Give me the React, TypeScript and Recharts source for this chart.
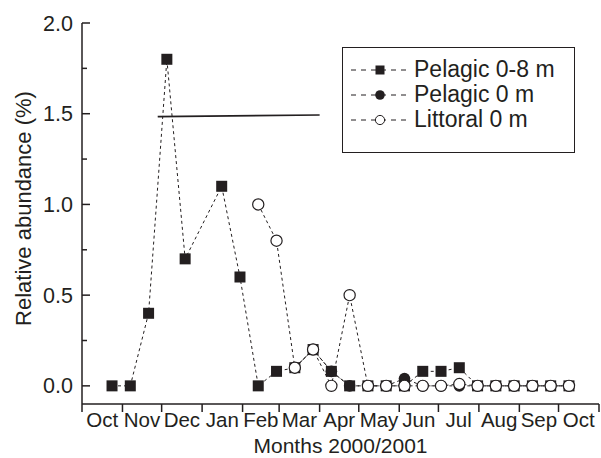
import React from 'react';
import { LineChart, Line, XAxis, YAxis, Legend, Label } from 'recharts';

// ---- data ----
const monthStarts = [0, 31, 61, 92, 123, 151, 182, 212, 243, 273, 304, 335, 365, 396]; // days since 1 Oct 2000
const monthLabels = ['Oct', 'Nov', 'Dec', 'Jan', 'Feb', 'Mar', 'Apr', 'May', 'Jun', 'Jul', 'Aug', 'Sep', 'Oct'];
const yTicks = [0, 0.25, 0.5, 0.75, 1.0, 1.25, 1.5, 1.75, 2.0];

const sampleDays = [23, 37, 51, 65, 79, 93, 107, 121, 135, 149, 163, 177, 191, 205, 219, 233, 247, 261, 275, 289, 303, 317, 331, 345, 359, 373];
const pelagic08 = [0, 0, 0.4, 1.8, 0.7, null, 1.1, 0.6, 0, 0.08, 0.1, 0.2, 0.08, 0, 0, 0, 0, 0.08, 0.08, 0.1, 0, 0, 0, 0, 0, 0];
const pelagic0 = [null, null, null, null, null, null, null, null, null, null, 0.1, 0.2, 0.08, 0, 0, 0, 0.04, 0, 0, 0, 0, 0, 0, 0, 0, 0];
const littoral0 = [null, null, null, null, null, null, null, null, 1.0, 0.8, 0.1, 0.2, 0, 0.5, 0, 0, 0, 0, 0, 0.01, 0, 0, 0, 0, 0, 0];
const strayDays = [58, 182];
const strayValues = [1.484, 1.493];

const seriesNames = ['Pelagic 0-8 m', 'Pelagic 0 m', 'Littoral 0 m'];

const FONT = '"Liberation Sans", Arial, Helvetica, sans-serif';
const INK = '#231f20';

const build = (vals: (number | null)[]) =>
  sampleDays
    .map((d, i) => ({ day: d, v: vals[i] }))
    .filter((p) => p.v !== null && p.v !== undefined);

const d08 = build(pelagic08);
const d0 = build(pelagic0);
const dLit = build(littoral0);
const dStray = strayDays.map((d, i) => ({ day: d, v: strayValues[i] }));

const monthMids = monthLabels.map((_, i) => (monthStarts[i] + monthStarts[i + 1]) / 2);
const xTicks = [...monthStarts, ...monthMids].sort((a, b) => a - b);

const SquareDot = (p: any) => {
  if (p.cx == null || p.cy == null) return <g key={p.index} />;
  return <rect key={`s${p.index}`} x={p.cx - 5.5} y={p.cy - 5.5} width={11} height={11} fill={INK} />;
};
const FilledDot = (p: any) => {
  if (p.cx == null || p.cy == null) return <g key={p.index} />;
  return <circle key={`f${p.index}`} cx={p.cx} cy={p.cy} r={5.8} fill={INK} />;
};
const OpenDot = (p: any) => {
  if (p.cx == null || p.cy == null) return <g key={p.index} />;
  return <circle key={`o${p.index}`} cx={p.cx} cy={p.cy} r={5.6} fill="#fff" stroke={INK} strokeWidth={1.2} />;
};

const XTick = (props: any) => {
  const { x, y, payload } = props;
  const v = payload.value;
  const bi = monthStarts.indexOf(v);
  if (bi >= 0) {
    return <line x1={x} x2={x} y1={y} y2={y + 8} stroke={INK} strokeWidth={1.5} />;
  }
  const mi = monthMids.indexOf(v);
  return (
    <text x={x} y={y + 23} textAnchor="middle" fontSize={20.5} fontFamily={FONT} fill={INK}>
      {monthLabels[mi]}
    </text>
  );
};

const YTick = (props: any) => {
  const { x, y, payload } = props;
  const v = payload.value;
  const major = Math.abs(v * 2 - Math.round(v * 2)) < 1e-6;
  return (
    <g>
      <line x1={x} x2={x + (major ? 8 : 5)} y1={y} y2={y} stroke={INK} strokeWidth={1.5} />
      {major && (
        <text x={x - 9} y={y + 7.5} textAnchor="end" fontSize={21.5} fontFamily={FONT} fill={INK}>
          {v.toFixed(1)}
        </text>
      )}
    </g>
  );
};

const LegendSample = ({ kind }: { kind: number }) => (
  <svg width={58} height={20} style={{ display: 'block' }}>
    <line x1={0} x2={58} y1={10} y2={10} stroke={INK} strokeWidth={1} strokeDasharray="5 5" />
    {kind === 0 && <rect x={24.5} y={5.5} width={9} height={9} fill={INK} />}
    {kind === 1 && <circle cx={29} cy={10} r={4.8} fill={INK} />}
    {kind === 2 && <circle cx={29} cy={10} r={4.6} fill="#fff" stroke={INK} strokeWidth={1} />}
  </svg>
);

const LegendBox = () => (
  <div
    style={{
      width: 233,
      height: 106,
      boxSizing: 'border-box',
      border: `1px solid ${INK}`,
      background: '#fff',
      paddingTop: 9,
      paddingLeft: 8,
      fontFamily: FONT,
    }}
  >
    {seriesNames.map((n, i) => (
      <div key={n} style={{ display: 'flex', alignItems: 'center', height: 25 }}>
        <LegendSample kind={i} />
        <span style={{ marginLeft: 5, fontSize: 23, color: INK, lineHeight: '25px', whiteSpace: 'nowrap' }}>{n}</span>
      </div>
    ))}
  </div>
);

export default function App() {
  return (
    <div style={{ position: 'absolute', left: 0, top: 0, width: 601, height: 458, background: '#fff' }}>
      <LineChart width={601} height={458} margin={{ top: 23, right: 2, bottom: 0, left: 0 }}>
        <XAxis
          xAxisId={0}
          dataKey="day"
          type="number"
          domain={[0, 396]}
          allowDataOverflow
          ticks={xTicks}
          interval={0}
          tickLine={false}
          tickSize={0}
          tickMargin={0}
          height={54}
          tick={<XTick />}
          axisLine={{ stroke: INK, strokeWidth: 1.5 }}
        >
          <Label
            content={(p: any) => {
              const vb = p.viewBox;
              return (
                <text x={vb.x + vb.width / 2} y={453} textAnchor="middle" fontSize={21} fontFamily={FONT} fill={INK}>
                  Months 2000/2001
                </text>
              );
            }}
          />
        </XAxis>
        <XAxis
          xAxisId="top"
          orientation="top"
          type="number"
          domain={[0, 396]}
          allowDataOverflow
          ticks={monthStarts}
          interval={0}
          height={0}
          mirror
          tick={false}
          tickSize={8}
          tickLine={{ stroke: INK, strokeWidth: 1.5 }}
          axisLine={{ stroke: INK, strokeWidth: 1.5 }}
        />
        <YAxis
          yAxisId={0}
          type="number"
          domain={[-0.1, 2.0]}
          allowDataOverflow
          ticks={yTicks}
          interval={0}
          width={82}
          tickLine={false}
          tickSize={0}
          tickMargin={0}
          tick={<YTick />}
          axisLine={{ stroke: INK, strokeWidth: 1.5 }}
        >
          <Label
            content={(p: any) => {
              const vb = p.viewBox;
              const cx = 23;
              const cy = vb.y + vb.height / 2 - 5;
              return (
                <text
                  x={cx}
                  y={cy}
                  transform={`rotate(-90 ${cx} ${cy})`}
                  textAnchor="middle"
                  dominantBaseline="central"
                  fontSize={22}
                  fontFamily={FONT}
                  fill={INK}
                >
                  Relative abundance (%)
                </text>
              );
            }}
          />
        </YAxis>
        <YAxis
          yAxisId="r"
          orientation="right"
          type="number"
          domain={[-0.1, 2.0]}
          allowDataOverflow
          ticks={yTicks}
          interval={0}
          width={0}
          mirror
          tick={false}
          tickSize={8}
          tickLine={{ stroke: INK, strokeWidth: 1.5 }}
          axisLine={{ stroke: INK, strokeWidth: 1.5 }}
        />
        <Legend
          layout="vertical"
          align="center"
          verticalAlign="middle"
          content={() => <LegendBox />}
          wrapperStyle={{ left: 342, top: 47, width: 233, height: 106 }}
        />
        <Line
          data={dStray}
          dataKey="v"
          stroke={INK}
          strokeWidth={1.6}
          dot={false}
          activeDot={false}
          legendType="none"
          isAnimationActive={false}
        />
        <Line
          data={d08}
          dataKey="v"
          name={seriesNames[0]}
          stroke={INK}
          strokeWidth={1}
          strokeDasharray="3 3"
          dot={SquareDot}
          activeDot={false}
          isAnimationActive={false}
        />
        <Line
          data={d0}
          dataKey="v"
          name={seriesNames[1]}
          stroke={INK}
          strokeWidth={1}
          strokeDasharray="3 3"
          dot={FilledDot}
          activeDot={false}
          isAnimationActive={false}
        />
        <Line
          data={dLit}
          dataKey="v"
          name={seriesNames[2]}
          stroke={INK}
          strokeWidth={1}
          strokeDasharray="3 3"
          dot={OpenDot}
          activeDot={false}
          isAnimationActive={false}
        />
      </LineChart>
    </div>
  );
}
